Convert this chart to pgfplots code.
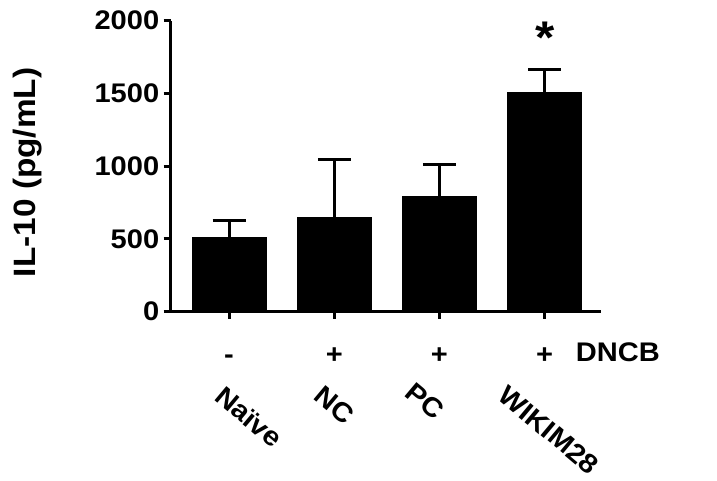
\documentclass[border=0pt]{standalone}
\usepackage{fontspec}
\setmainfont{Liberation Sans}[FakeStretch=1.08]
\usepackage{pgfplots}
\pgfplotsset{compat=1.18}
\begin{document}
\begin{tikzpicture}
\begin{axis}[
  scale only axis,
  width=430bp, height=291bp,
  xmin=-0.555, xmax=3.533,
  ymin=0, ymax=2000,
  axis lines*=left,
  axis line style={line width=3bp, -},
  ytick={0,500,1000,1500,2000},
  xtick={0,1,2,3},
  xticklabels={-,+,+,+},
  tick style={line width=3bp, black},
  tick align=outside,
  major tick length=7bp,
  /pgf/number format/assume math mode=true,
  /pgf/number format/1000 sep={},
  ticklabel style={font=\fontsize{27}{30}\selectfont\bfseries},
  yticklabel style={xshift=-1bp},
  xticklabel style={anchor=base, yshift=-45bp},
  clip=false,
  ybar, bar width=74bp, bar shift=0pt,
]
\addplot[fill=black, draw=black, line width=1bp,
  error bars/.cd, y dir=plus, y explicit,
  error bar style={line width=3bp, black},
  error mark=-,
  error mark options={rotate=90, line width=3bp, mark size=16.5bp, black}]
  coordinates {
  (0,511) +- (0,119)
  (1,649) +- (0,394)
  (2,790) +- (0,225)
  (3,1505) +- (0,161)
  };
\node[font=\fontsize{31}{34}\selectfont\bfseries, rotate=90] at ([xshift=-142.7bp]rel axis cs:0,0.479) {IL-10 (pg/mL)};
\node[font=\fontsize{46}{46}\selectfont\bfseries] at (axis cs:3,1880) {*};
\node[font=\fontsize{27}{30}\selectfont\bfseries] at (axis cs:3.697,-277) {DNCB};
\node[font=\fontsize{27}{30}\selectfont\bfseries, rotate=-40] at (axis cs:0.189,-724) {Naïve};
\node[font=\fontsize{27}{30}\selectfont\bfseries, rotate=-40] at (axis cs:1.0,-641) {NC};
\node[font=\fontsize{27}{30}\selectfont\bfseries, rotate=-40] at (axis cs:1.862,-613) {PC};
\node[font=\fontsize{27}{30}\selectfont\bfseries, rotate=-40] at (axis cs:3.041,-815) {WIKIM28};
\coordinate (O) at (rel axis cs:0,0);
\coordinate (T) at (rel axis cs:0,1);
\end{axis}
\pgfresetboundingbox
\path[use as bounding box] ([shift={(-170.7bp,-169.3bp)}]O) rectangle ([shift={(546.3bp,20.7bp)}]T);
\end{tikzpicture}
\end{document}
